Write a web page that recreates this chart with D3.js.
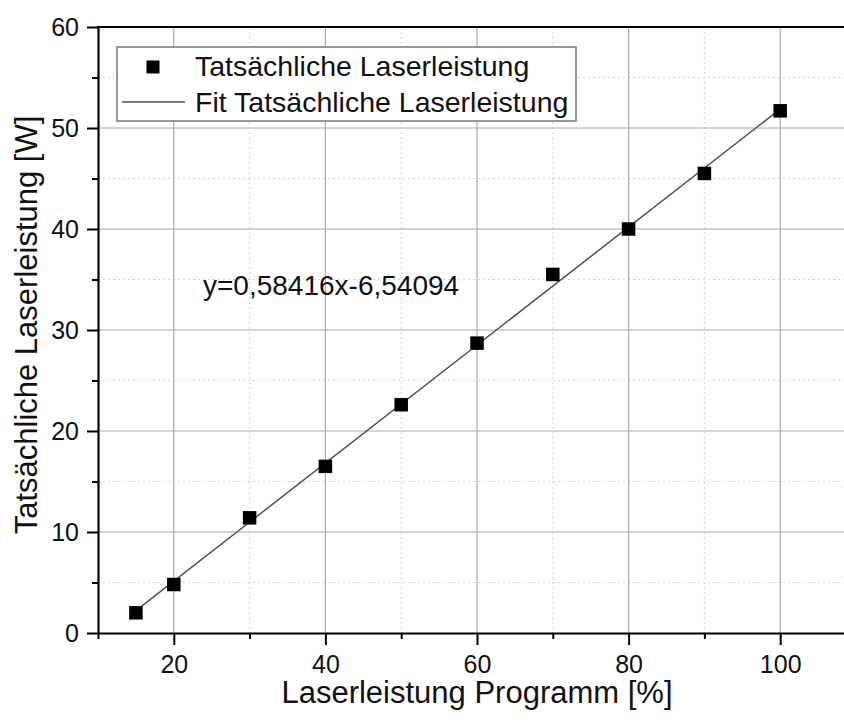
<!DOCTYPE html>
<html>
<head>
<meta charset="utf-8">
<style>
  body { margin: 0; background: #fff; }
  svg { display: block; font-family: "Liberation Sans", Arial, sans-serif; }
</style>
</head>
<body>
<svg></svg>
<script src="https://d3js.org/d3.v7.min.js"></script>
<script>

// data
var programm = [15, 20, 30, 40, 50, 60, 70, 80, 90, 100];
var leistung = [2.0, 4.8, 11.4, 16.5, 22.6, 28.7, 35.5, 40.0, 45.5, 51.7];
var fitSlope = 0.58416;
var fitIntercept = -6.54094;
var xMajorTicks = [20, 40, 60, 80, 100];
var xMinorTicks = [10, 30, 50, 70, 90, 110];
var yMajorTicks = [0, 10, 20, 30, 40, 50, 60];
var yMinorTicks = [5, 15, 25, 35, 45, 55];
var legendLabels = ["Tatsächliche Laserleistung", "Fit Tatsächliche Laserleistung"];

var width = 844;
var height = 727;
var plotLeft = 98, plotTop = 27, plotRight = 856, plotBottom = 633;

const svg = d3.select("svg")
    .attr("width", width)
    .attr("height", height);

var x = d3.scaleLinear().domain([10, 110]).range([plotLeft, plotRight]);
var y = d3.scaleLinear().domain([0, 60]).range([plotBottom, plotTop]);

// grid
var grid = svg.append("g");
grid.selectAll(".vmin")
    .data(xMinorTicks.filter(d => d > 10 && d < 110))
    .join("line")
        .attr("x1", d => x(d)).attr("x2", d => x(d))
        .attr("y1", plotTop).attr("y2", plotBottom)
        .attr("stroke", "#d4d4d4").attr("stroke-width", 1)
        .attr("stroke-dasharray", "2,3");
grid.selectAll(".hmin")
    .data(yMinorTicks)
    .join("line")
        .attr("x1", plotLeft).attr("x2", width)
        .attr("y1", d => y(d)).attr("y2", d => y(d))
        .attr("stroke", "#d4d4d4").attr("stroke-width", 1)
        .attr("stroke-dasharray", "2,3");
grid.selectAll(".vmaj")
    .data(xMajorTicks)
    .join("line")
        .attr("x1", d => x(d)).attr("x2", d => x(d))
        .attr("y1", plotTop).attr("y2", plotBottom)
        .attr("stroke", "#aaaaaa").attr("stroke-width", 1.2);
grid.selectAll(".hmaj")
    .data(yMajorTicks.filter(d => d > 0 && d < 60))
    .join("line")
        .attr("x1", plotLeft).attr("x2", width)
        .attr("y1", d => y(d)).attr("y2", d => y(d))
        .attr("stroke", "#aaaaaa").attr("stroke-width", 1.2);

// fit line
var line = d3.line().x(d => x(d)).y(d => y(fitSlope * d + fitIntercept));
svg.append("path")
    .datum([d3.min(programm), d3.max(programm)])
    .attr("d", line)
    .attr("fill", "none")
    .attr("stroke", "#505050")
    .attr("stroke-width", 1.5);

// points
var size = 13.5;
svg.selectAll(".pt")
    .data(programm)
    .join("rect")
        .attr("x", d => x(d) - size / 2)
        .attr("y", (d, i) => y(leistung[i]) - size / 2)
        .attr("width", size)
        .attr("height", size)
        .attr("fill", "#000");

// axes
function styleAxis(g) {
    g.select(".domain").attr("stroke-width", 2.2);
    g.selectAll(".tick line").attr("stroke-width", 2);
    g.selectAll("text").attr("font-size", 25).attr("fill", "#111")
        .attr("font-family", "'Liberation Sans', Arial, sans-serif");
}

svg.append("g")
    .attr("transform", `translate(0,${plotBottom})`)
    .call(d3.axisBottom(x).tickValues(xMinorTicks).tickSize(6).tickFormat("").tickSizeOuter(0))
    .call(g => g.select(".domain").remove())
    .call(g => g.selectAll(".tick line").attr("stroke-width", 2));

svg.append("g")
    .attr("transform", `translate(0,${plotBottom})`)
    .call(d3.axisBottom(x).tickValues(xMajorTicks).tickSize(12).tickPadding(10).tickSizeOuter(0))
    .call(styleAxis);

svg.append("g")
    .attr("transform", `translate(${plotLeft},0)`)
    .call(d3.axisLeft(y).tickValues(yMinorTicks).tickSize(6).tickFormat("").tickSizeOuter(0))
    .call(g => g.select(".domain").remove())
    .call(g => g.selectAll(".tick line").attr("stroke-width", 2));

svg.append("g")
    .attr("transform", `translate(${plotLeft},0)`)
    .call(d3.axisLeft(y).tickValues(yMajorTicks).tickSize(11).tickPadding(8).tickSizeOuter(0))
    .call(styleAxis);

// top frame line
svg.append("line")
    .attr("x1", plotLeft - 1).attr("x2", width)
    .attr("y1", plotTop).attr("y2", plotTop)
    .attr("stroke", "#000").attr("stroke-width", 2.2);

// axis titles
svg.append("text")
    .attr("x", (plotLeft + plotRight) / 2)
    .attr("y", 703)
    .attr("text-anchor", "middle")
    .attr("font-size", 31)
    .attr("fill", "#111")
    .text("Laserleistung Programm [%]");

svg.append("text")
    .attr("transform", "translate(37,325) rotate(-90)")
    .attr("text-anchor", "middle")
    .attr("font-size", 31)
    .attr("fill", "#111")
    .text("Tatsächliche Laserleistung [W]");

// equation
svg.append("text")
    .attr("x", 203)
    .attr("y", 295)
    .attr("font-size", 28)
    .attr("fill", "#111")
    .text("y=" + String(fitSlope).replace(".", ",") + "x" + String(fitIntercept).replace(".", ","));

// legend
var legend = svg.append("g");
legend.append("rect")
    .attr("x", 117).attr("y", 47)
    .attr("width", 459).attr("height", 74)
    .attr("fill", "#fff")
    .attr("stroke", "#777").attr("stroke-width", 1.5);
legend.append("rect")
    .attr("x", 153 - 6.5).attr("y", 67 - 6.5)
    .attr("width", 13).attr("height", 13)
    .attr("fill", "#000");
legend.append("line")
    .attr("x1", 122).attr("x2", 185)
    .attr("y1", 102).attr("y2", 102)
    .attr("stroke", "#505050").attr("stroke-width", 1.5);
legend.selectAll(".lt")
    .data(legendLabels)
    .join("text")
        .attr("x", 195)
        .attr("y", (d, i) => 76 + i * 36)
        .attr("font-size", 28.5)
        .attr("fill", "#111")
        .text(d => d);

</script>
</body>
</html>
